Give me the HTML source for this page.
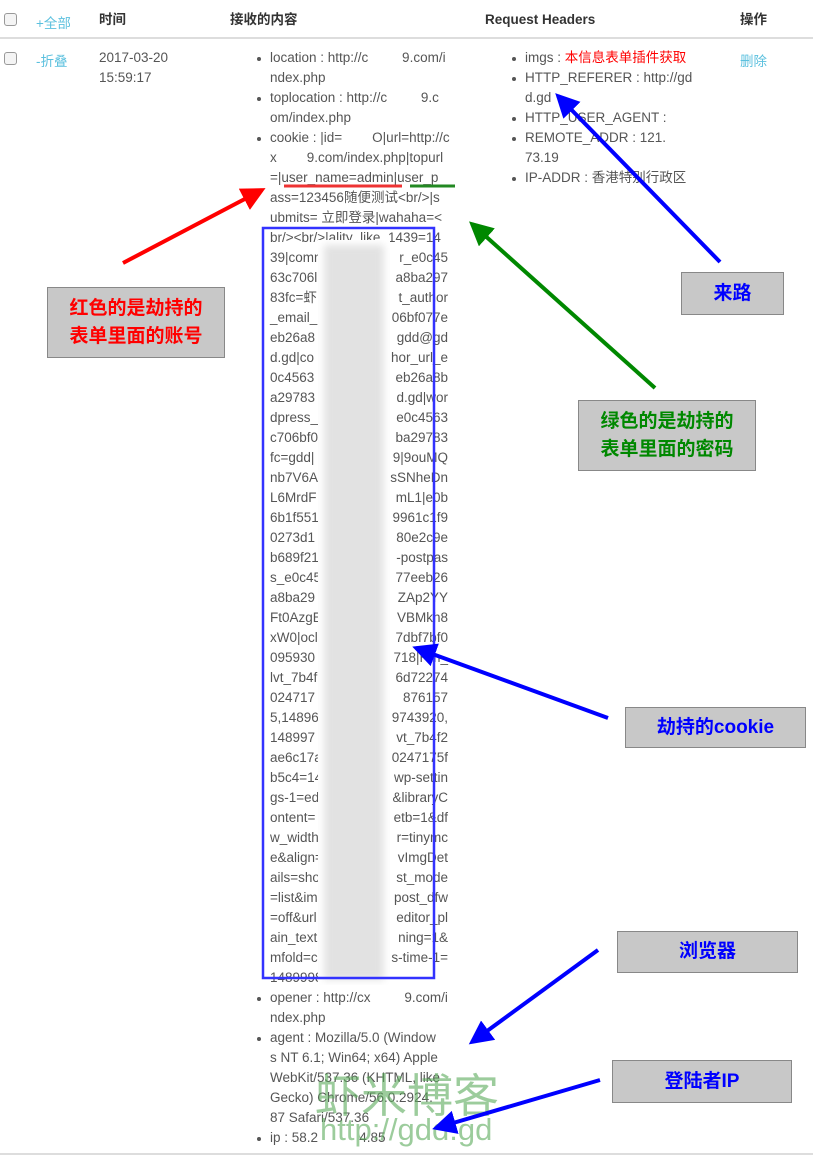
<!DOCTYPE html>
<html><head><meta charset="utf-8"><style>
body{margin:0;width:813px;height:1157px;background:#fff;position:relative;overflow:hidden;font-family:"Liberation Sans","Noto Sans CJK SC",sans-serif;font-size:13.5px;color:#555}
.a{position:absolute;white-space:nowrap}
.h{font-weight:bold;color:#333;line-height:20px;top:10px!important}
.cb{position:absolute;width:11px;height:11px;border:1px solid #999;border-radius:3px;background:#f4f4f4}
.col{position:absolute;line-height:20px;white-space:pre}
.bul{position:absolute;width:4px;height:4px;border-radius:50%;background:#555}
.box{position:absolute;background:#c8c8c8;border:1px solid #888;font-weight:bold;font-size:19px;text-align:center;display:flex;align-items:center;justify-content:center;line-height:28px}
</style></head><body>
<div class="cb" style="left:4px;top:13px"></div>
<div class="a" style="left:36px;top:12px;color:#5bc0de">+全部</div>
<div class="a h" style="left:99px;top:12px">时间</div>
<div class="a h" style="left:230px;top:12px">接收的内容</div>
<div class="a h" style="left:485px;top:12px;font-family:'Liberation Sans',sans-serif">Request Headers</div>
<div class="a h" style="left:740px;top:12px">操作</div>
<div class="a" style="left:0;top:37px;width:813px;height:2px;background:#ddd"></div>
<div class="cb" style="left:4px;top:52px"></div>
<div class="a" style="left:36px;top:50px;color:#5bc0de">-折叠</div>
<div class="col" style="left:99px;top:48px">2017-03-20
15:59:17</div>
<div class="a" style="left:740px;top:50px;color:#5bc0de">删除</div>

<div class="col" style="left:270px;top:48px">location : http://c         9.com/i
ndex.php
toplocation : http://c         9.c
om/index.php
cookie : |id=        O|url=http://c
x        9.com/index.php|topurl
=|user_name=admin|user_p
ass=123456随便测试&lt;br/&gt;|s
ubmits= 立即登录|wahaha=&lt;
br/&gt;&lt;br/&gt;|ality_like_1439=14
39|comm
63c706l
83fc=虾
_email_
eb26a8
d.gd|co
0c4563
a29783
dpress_
c706bf0
fc=gdd|
nb7V6A
L6MrdF
6b1f551
0273d1
b689f21
s_e0c45
a8ba29
Ft0AzgE
xW0|ocl
095930
lvt_7b4f
024717
5,14896
148997
ae6c17a
b5c4=14
gs-1=ed
ontent=
w_width
e&amp;align=
ails=sho
=list&amp;im
=off&amp;url
ain_text
mfold=c
1489998889
opener : http://cx         9.com/i
ndex.php
agent : Mozilla/5.0 (Window
s NT 6.1; Win64; x64) Apple
WebKit/537.36 (KHTML, like
Gecko) Chrome/56.0.2924.
87 Safari/537.36
ip : 58.2           4.85</div>
<div class="col" style="right:365px;top:248px;text-align:right">r_e0c45
a8ba297
t_author
06bf077e
gdd@gd
hor_url_e
eb26a8b
d.gd|wor
e0c4563
ba29783
9|9ouMQ
sSNheDn
mL1|e0b
9961c1f9
80e2c9e
-postpas
77eeb26
ZAp2YY
VBMkh8
7dbf7bf0
718|Hm_
6d72274
876157
9743920,
vt_7b4f2
0247175f
wp-settin
&amp;libraryC
etb=1&amp;df
r=tinymc
vImgDet
st_mode
post_dfw
editor_pl
ning=1&amp;
s-time-1=</div>
<svg class="a" style="left:318px;top:240px" width="72" height="745"><defs><filter id="b"><feGaussianBlur stdDeviation="4"/></filter></defs><rect x="0" y="0" width="72" height="745" fill="#fff"/><rect x="6" y="5" width="60" height="735" fill="#e2e2e2" filter="url(#b)"/></svg>
<div class="bul" style="left:257px;top:57px"></div><div class="bul" style="left:257px;top:97px"></div><div class="bul" style="left:257px;top:137px"></div><div class="bul" style="left:257px;top:997px"></div><div class="bul" style="left:257px;top:1037px"></div><div class="bul" style="left:257px;top:1137px"></div>

<div class="col" style="left:525px;top:48px">imgs : <span style="color:#f00">本信息表单插件获取</span>
HTTP_REFERER : http://gd
d.gd
HTTP_USER_AGENT :
REMOTE_ADDR : 121.     
73.19
IP-ADDR : 香港特别行政区</div>
<div class="bul" style="left:512px;top:57px"></div><div class="bul" style="left:512px;top:77px"></div><div class="bul" style="left:512px;top:117px"></div><div class="bul" style="left:512px;top:137px"></div><div class="bul" style="left:512px;top:177px"></div>

<div class="a" style="left:0;top:1153px;width:813px;height:2px;background:#ddd"></div>

<div class="a" style="left:315px;top:1060px;font-size:46px;color:rgba(90,170,90,0.6);font-family:'Noto Sans CJK SC',sans-serif">虾米博客</div>
<div class="a" style="left:320px;top:1112px;font-size:31px;color:rgba(90,170,90,0.6)">http://gdd.gd</div>

<svg class="a" style="left:0;top:0" width="813" height="1157">
<defs>
<marker id="r" markerWidth="6" markerHeight="6" refX="5" refY="3" orient="auto"><path d="M0,0L6,3L0,6z" fill="#f00"/></marker>
<marker id="g" markerWidth="6" markerHeight="6" refX="5" refY="3" orient="auto"><path d="M0,0L6,3L0,6z" fill="#080"/></marker>
<marker id="u" markerWidth="6" markerHeight="6" refX="5" refY="3" orient="auto"><path d="M0,0L6,3L0,6z" fill="#00f"/></marker>
</defs>
<line x1="284" y1="186" x2="402" y2="186" stroke="#e33" stroke-width="3"/>
<line x1="410" y1="186" x2="455" y2="186" stroke="#282" stroke-width="3"/>
<rect x="263" y="228" width="171" height="750" fill="none" stroke="#33f" stroke-width="2.5"/>
<line x1="123" y1="263" x2="262" y2="190" stroke="#f00" stroke-width="4" marker-end="url(#r)"/>
<line x1="655" y1="388" x2="472" y2="224" stroke="#080" stroke-width="4" marker-end="url(#g)"/>
<line x1="720" y1="262" x2="558" y2="96" stroke="#00f" stroke-width="4" marker-end="url(#u)"/>
<line x1="608" y1="718" x2="416" y2="648" stroke="#00f" stroke-width="4" marker-end="url(#u)"/>
<line x1="598" y1="950" x2="472" y2="1042" stroke="#00f" stroke-width="4" marker-end="url(#u)"/>
<line x1="600" y1="1080" x2="436" y2="1128" stroke="#00f" stroke-width="4" marker-end="url(#u)"/>
</svg>

<div class="box" style="left:47px;top:287px;width:176px;height:69px;color:#f00">红色的是劫持的<br>表单里面的账号</div>
<div class="box" style="left:578px;top:400px;width:176px;height:69px;color:#080">绿色的是劫持的<br>表单里面的密码</div>
<div class="box" style="left:681px;top:272px;width:101px;height:41px;color:#00f">来路</div>
<div class="box" style="left:625px;top:707px;width:179px;height:39px;color:#00f">劫持的cookie</div>
<div class="box" style="left:617px;top:931px;width:179px;height:40px;color:#00f">浏览器</div>
<div class="box" style="left:612px;top:1060px;width:178px;height:41px;color:#00f">登陆者IP</div>
</body></html>
